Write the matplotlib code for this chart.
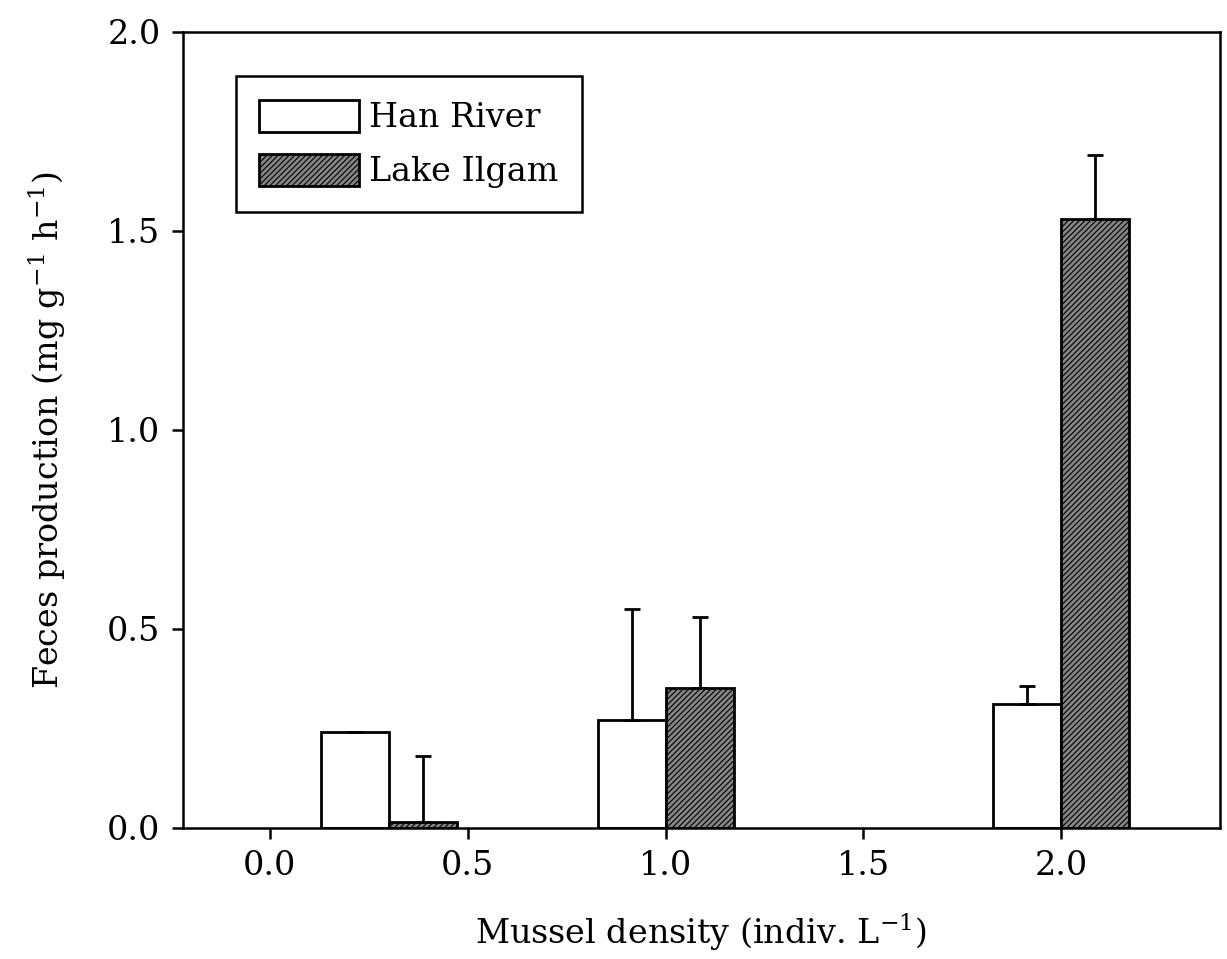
import matplotlib
matplotlib.use("Agg")
import matplotlib.pyplot as plt
import numpy as np

# Data
density = [0.3, 1.0, 2.0]
han_mean = [0.24, 0.27, 0.31]
han_err = [0.0, 0.28, 0.045]
lake_mean = [0.015, 0.35, 1.53]
lake_err = [0.165, 0.18, 0.16]

x_ticks = [0.0, 0.5, 1.0, 1.5, 2.0]
y_ticks = [0.0, 0.5, 1.0, 1.5, 2.0]

plt.rcParams["font.family"] = ["DejaVu Serif"]
plt.rcParams["mathtext.fontset"] = "dejavuserif"
plt.rcParams["hatch.linewidth"] = 0.8

fig = plt.figure(figsize=(12.27, 9.59), dpi=100)
ax = fig.add_axes([0.149, 0.137, 0.845, 0.830])

width = 0.172
x = np.array(density)

ax.bar(x, han_mean, width=-width, align="edge", color="white",
       edgecolor="black", linewidth=2, label="Han River", zorder=2)
ax.bar(x, lake_mean, width=width, align="edge", color="#858585",
       edgecolor="black", linewidth=2, hatch="//////", label="Lake Ilgam",
       zorder=2)

# upper error bars only
ax.errorbar(x - width / 2, han_mean, yerr=[np.zeros(3), han_err], fmt="none",
            ecolor="black", elinewidth=2, capsize=6, capthick=2, zorder=3)
ax.errorbar(x + width / 2, lake_mean, yerr=[np.zeros(3), lake_err], fmt="none",
            ecolor="black", elinewidth=2, capsize=6, capthick=2, zorder=3)

ax.set_xlim(-0.22, 2.40)
ax.set_ylim(0, 2.0)
ax.set_xticks(x_ticks)
ax.set_yticks(y_ticks)
ax.set_xticklabels([f"{v:.1f}" for v in x_ticks])
ax.set_yticklabels([f"{v:.1f}" for v in y_ticks])

ax.tick_params(axis="both", direction="out", length=8, width=1.8,
               labelsize=24, pad=8)
for s in ax.spines.values():
    s.set_linewidth(1.8)

ax.set_xlabel(r"Mussel density (indiv. L$^{-1}$)", fontsize=24, labelpad=22)
ax.set_ylabel(r"Feces production (mg g$^{-1}$ h$^{-1}$)", fontsize=24,
              labelpad=28)

leg = ax.legend(loc="upper left", bbox_to_anchor=(0.035, 0.965), fontsize=24,
                frameon=True, fancybox=False, edgecolor="black",
                handlelength=3.0, handleheight=1.1, borderpad=0.7,
                handletextpad=0.3, labelspacing=0.6, framealpha=1)
leg.get_frame().set_linewidth(1.8)

fig.savefig("out.png", dpi=100)
